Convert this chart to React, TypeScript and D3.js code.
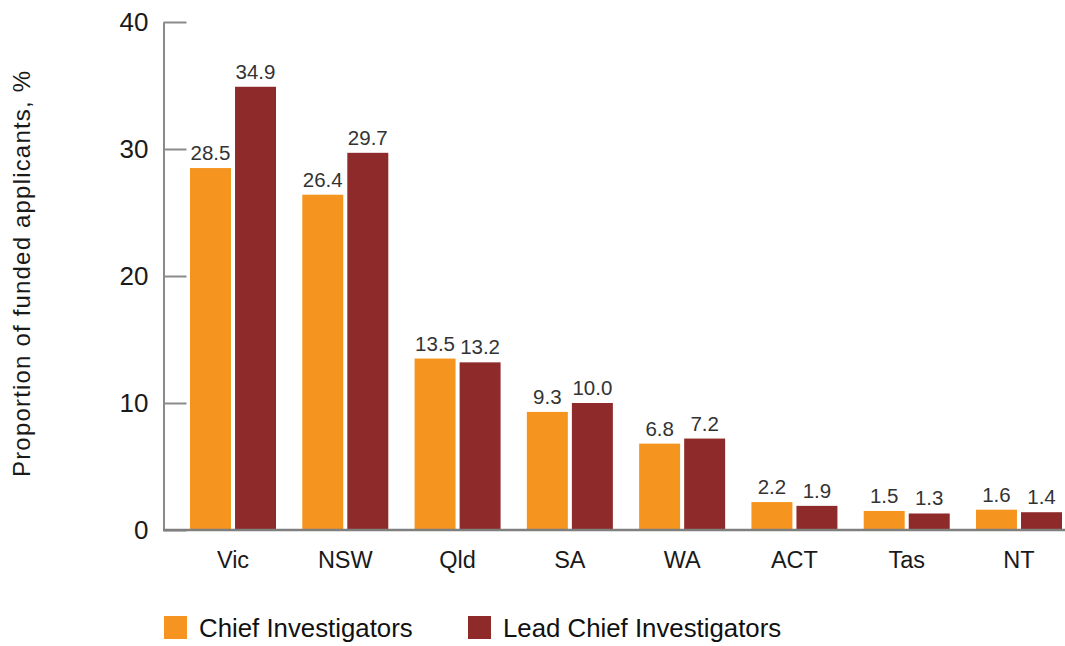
import React, {Component} from 'react';
import * as d3 from 'd3';

const categories = ['Vic', 'NSW', 'Qld', 'SA', 'WA', 'ACT', 'Tas', 'NT'];
const chiefInvestigators = [28.5, 26.4, 13.5, 9.3, 6.8, 2.2, 1.5, 1.6];
const leadChiefInvestigators = [34.9, 29.7, 13.2, 10.0, 7.2, 1.9, 1.3, 1.4];
const seriesNames = ['Chief Investigators', 'Lead Chief Investigators'];
const seriesColors = ['#F5951F', '#8E2A29'];
const yTicks = [0, 10, 20, 30, 40];
const yTitle = 'Proportion of funded applicants, %';

const FONT = '"Liberation Sans", Arial, sans-serif';

class App extends Component {
    chartRef: React.RefObject<SVGSVGElement | null>;

    constructor(props: any) {
        super(props);
        this.chartRef = React.createRef();
    }

    componentDidMount() {
        this.drawChart();
    }

    drawChart() {
        const width = 1065;
        const height = 646;
        const svg = d3.select(this.chartRef.current);
        svg.selectAll('*').remove();
        svg.attr('width', width).attr('height', height);

        const series = [chiefInvestigators, leadChiefInvestigators];

        // scales
        const x = d3.scaleBand<string>()
            .domain(categories)
            .range([190, 1062])
            .paddingInner(0.234)
            .paddingOuter(0);

        const xSub = d3.scaleBand<number>()
            .domain([0, 1])
            .range([0, x.bandwidth()])
            .paddingInner(0.09);

        const y = d3.scaleLinear()
            .domain([0, 40])
            .range([530, 22]);

        // bars
        series.forEach((values, s) => {
            svg.append('g')
                .selectAll('rect')
                .data(values)
                .enter()
                .append('rect')
                .attr('x', (d, i) => (x(categories[i]) as number) + (xSub(s) as number))
                .attr('y', (d) => y(d))
                .attr('width', xSub.bandwidth())
                .attr('height', (d) => y(0) - y(d))
                .attr('fill', seriesColors[s]);

            // value labels
            svg.append('g')
                .selectAll('text')
                .data(values)
                .enter()
                .append('text')
                .text((d) => d.toFixed(1))
                .attr('x', (d, i) => (x(categories[i]) as number) + (xSub(s) as number) + xSub.bandwidth() / 2)
                .attr('y', (d) => y(d) - 8)
                .attr('text-anchor', 'middle')
                .attr('font-family', FONT)
                .attr('font-size', 20.5)
                .attr('fill', '#333333');
        });

        // left axis, ticks pointing inward
        const yAxis = svg.append('g')
            .attr('transform', 'translate(163.5,0)')
            .call(d3.axisLeft(y).tickValues(yTicks).tickSizeInner(-23).tickSizeOuter(0).tickPadding(15));
        yAxis.selectAll('path, line').attr('stroke', '#8a8a8a').attr('stroke-width', 2);
        yAxis.selectAll('text')
            .attr('font-family', FONT)
            .attr('font-size', 26)
            .attr('fill', '#1a1a1a');

        // bottom axis line
        svg.append('line')
            .attr('x1', 163)
            .attr('x2', width)
            .attr('y1', y(0))
            .attr('y2', y(0))
            .attr('stroke', '#7f7f7f')
            .attr('stroke-width', 2.5);

        // category labels
        const xAxis = svg.append('g')
            .attr('transform', `translate(0,${y(0)})`)
            .call(d3.axisBottom(x).tickSize(0).tickPadding(21));
        xAxis.select('.domain').remove();
        xAxis.selectAll('text')
            .attr('font-family', FONT)
            .attr('font-size', 23.5)
            .attr('fill', '#1a1a1a');

        // y axis title
        svg.append('text')
            .text(yTitle)
            .attr('transform', 'translate(30,274) rotate(-90)')
            .attr('text-anchor', 'middle')
            .attr('font-family', FONT)
            .attr('font-size', 24)
            .attr('textLength', 406)
            .attr('fill', '#1a1a1a');

        // legend
        const legendX = [164, 468];
        seriesNames.forEach((name, s) => {
            const g = svg.append('g').attr('transform', `translate(${legendX[s]},616)`);
            g.append('rect')
                .attr('width', 23)
                .attr('height', 23)
                .attr('fill', seriesColors[s]);
            g.append('text')
                .text(name)
                .attr('x', 35)
                .attr('y', 21)
                .attr('font-family', FONT)
                .attr('font-size', 25.8)
                .attr('fill', '#111111');
        });
    }

    render() {
        return <>
            <svg ref={this.chartRef} style={{position: 'absolute', left: 0, top: 0, display: 'block'}}></svg>
        </>
    }
}

export default App;
